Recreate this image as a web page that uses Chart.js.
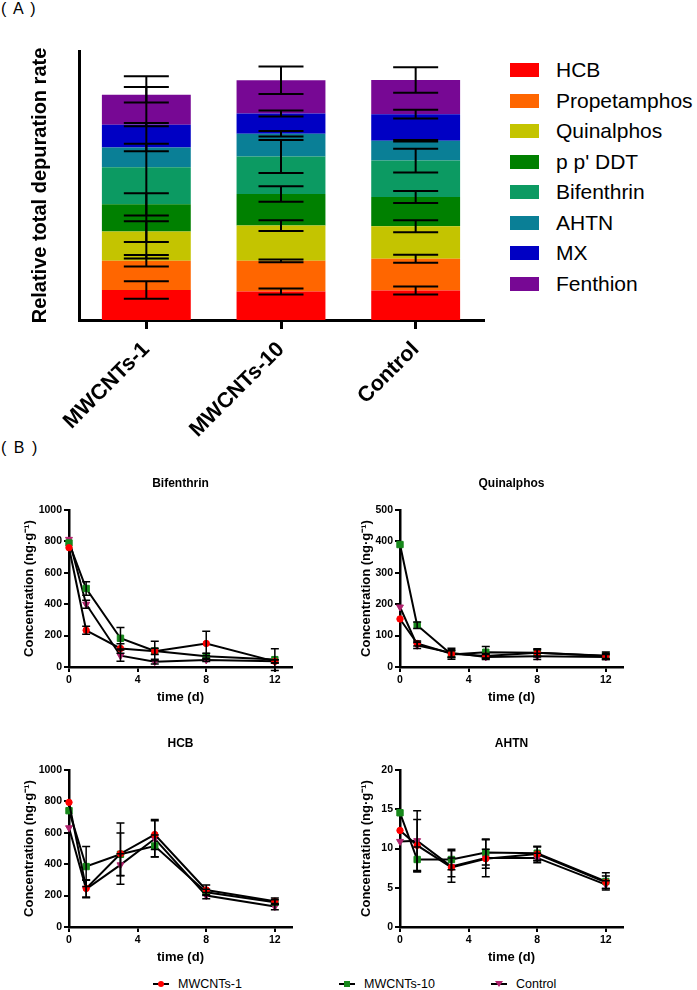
<!DOCTYPE html>
<html>
<head>
<meta charset="utf-8">
<script src="https://cdn.jsdelivr.net/npm/chart.js@4.4.1/dist/chart.umd.min.js"></script>
<style>
  body { margin: 0; background: #fff; width: 697px; height: 990px; position: relative; overflow: hidden;
         font-family: "Liberation Sans", Arial, sans-serif; color: #000; }
  canvas { position: absolute; }
  .tag { position: absolute; left: 1px; font-size: 16px; word-spacing: 3px; }
  .lgA { position: absolute; left: 510px; height: 30px; line-height: 30px; font-size: 21px; white-space: nowrap; }
  .lgA span.box { position: absolute; left: 0; top: 8px; width: 29px; height: 14px; }
  .lgA span.txt { position: absolute; left: 46px; top: 0; }
  .lgB { position: absolute; top: 976px; height: 16px; line-height: 16px; font-size: 12.5px; white-space: nowrap; }
  .lgB .ln { position: absolute; left: 0; top: 7px; width: 16px; height: 2px; background: #000; }
  .lgB .mk { position: absolute; }
  .lgB .txt { position: absolute; left: 25px; top: 0; }
</style>
</head>
<body>
<div class="tag" style="top:0px">( A )</div>
<div class="tag" style="top:439px">( B )</div>
<canvas id="chartA" width="490" height="400" style="left:0;top:40px"></canvas>
<canvas id="bif" width="356" height="240" style="left:0;top:470px"></canvas>
<canvas id="quin" width="330" height="240" style="left:340px;top:470px"></canvas>
<canvas id="hcb" width="356" height="240" style="left:0;top:730px"></canvas>
<canvas id="ahtn" width="330" height="240" style="left:340px;top:730px"></canvas>
<div id="legendA"></div>
<div id="legendB"></div>
<script>
// ---- panel A: relative total depuration rate (stacked) ----
const groups = ['MWCNTs-1', 'MWCNTs-10', 'Control'];
const compounds = ['HCB', 'Propetamphos', 'Quinalphos', "p p' DDT", 'Bifenthrin', 'AHTN', 'MX', 'Fenthion'];

const hcbRate  = [0.89, 0.85, 0.88], hcbRateErr  = [0.26, 0.09, 0.12];
const propRate = [0.87, 0.91, 0.94], propRateErr = [0.17, 0.04, 0.12];
const quinRate = [0.87, 1.05, 0.97], quinRateErr = [0.31, 0.16, 0.18];
const ddtRate  = [0.81, 0.94, 0.87], ddtRateErr  = [0.33, 0.23, 0.18];
const bifRate  = [1.10, 1.11, 1.08], bifRateErr  = [2.71, 0.49, 0.35];
const ahtnRate = [0.59, 0.68, 0.59], ahtnRateErr = [0.11, 0.08, 0.02];
const mxRate   = [0.68, 0.60, 0.79], mxRateErr   = [0.05, 0.09, 0.13];
const fenRate  = [0.89, 0.99, 1.02], fenRateErr  = [0.23, 0.41, 0.38];

// ---- panel B: concentration over time (ng/g) ----
const days = [0, 1, 3, 5, 8, 12];
const seriesNames = ['MWCNTs-1', 'MWCNTs-10', 'Control'];

const bifM1 = [760, 234, 118, 100, 150, 36],  bifM1Err = [0, 25, 30, 20, 78, 10];
const bifM10 = [790, 500, 183, 102, 68, 47],  bifM10Err = [0, 43, 68, 62, 20, 70];
const bifCtl = [813, 400, 72, 34, 45, 36],    bifCtlErr = [0, 25, 36, 15, 10, 10];

const quinM1 = [153, 75, 42, 35, 45, 35],     quinM1Err = [0, 8, 10, 8, 10, 8];
const quinM10 = [390, 133, 40, 47, 45, 36],   quinM10Err = [0, 10, 15, 18, 13, 12];
const quinCtl = [191, 69, 45, 32, 34, 32],    quinCtlErr = [0, 10, 15, 8, 10, 8];

const hcbM1 = [794, 246, 467, 589, 236, 164], hcbM1Err = [0, 55, 195, 95, 31, 20];
const hcbM10 = [741, 385, 463, 516, 221, 158], hcbM10Err = [0, 127, 135, 70, 20, 15];
const hcbCtl = [632, 242, 396, 562, 200, 130], hcbCtlErr = [0, 55, 70, 115, 20, 20];

const ahtnM1 = [12.3, 10.4, 7.6, 8.7, 9.3, 5.7],   ahtnM1Err = [0, 3.3, 1.2, 1.2, 0.9, 0.8];
const ahtnM10 = [14.55, 8.6, 8.6, 9.5, 9.4, 5.8],  ahtnM10Err = [0, 1.6, 1.3, 1.6, 0.9, 1.1];
const ahtnCtl = [10.9, 11.0, 7.7, 8.8, 8.8, 5.4],  ahtnCtlErr = [0, 3.8, 2.0, 2.4, 0.6, 0.5];

// styles
const compoundColors = ['#ff0000', '#ff6600', '#c4c400', '#008000', '#0c9a62', '#0a7f96', '#0000c4', '#770894'];
const seriesColors = ['#ff0000', '#17881b', '#b0246e'];
const seriesPoints = ['circle', 'rect', 'triangle'];
const seriesRot = [0, 0, 180];
const seriesRadius = [3.2, 4.5, 4];

Chart.defaults.font.family = '"Liberation Sans", Arial, sans-serif';
Chart.defaults.color = '#000';

const errorBars = {
  id: 'errorBars',
  afterDatasetsDraw(chart, args, opts) {
    const ctx = chart.ctx;
    const y = chart.scales.y;
    ctx.save();
    ctx.strokeStyle = '#000';
    ctx.lineWidth = opts.lineWidth;
    chart.data.datasets.forEach((ds, i) => {
      if (!ds.errors) return;
      chart.getDatasetMeta(i).data.forEach((el, j) => {
        const e = ds.errors[j];
        if (!e) return;
        const y1 = y.getPixelForValue(ds.tops[j] + e);
        const y2 = y.getPixelForValue(ds.tops[j] - e);
        const w = opts.cap;
        ctx.beginPath();
        ctx.moveTo(el.x, y1); ctx.lineTo(el.x, y2);
        ctx.moveTo(el.x - w, y1); ctx.lineTo(el.x + w, y1);
        ctx.moveTo(el.x - w, y2); ctx.lineTo(el.x + w, y2);
        ctx.stroke();
      });
    });
    ctx.restore();
  }
};

// panel A
const rateSeries = [hcbRate, propRate, quinRate, ddtRate, bifRate, ahtnRate, mxRate, fenRate];
const rateErrors = [hcbRateErr, propRateErr, quinRateErr, ddtRateErr, bifRateErr, ahtnRateErr, mxRateErr, fenRateErr];
const running = groups.map(() => 0);
const stackDatasets = rateSeries.map((vals, i) => {
  const tops = vals.map((v, j) => (running[j] += v));
  return {
    label: compounds[i], data: vals, tops: tops, errors: rateErrors[i],
    backgroundColor: compoundColors[i], borderWidth: 0,
    barPercentage: 0.66, categoryPercentage: 1
  };
});

new Chart(document.getElementById('chartA'), {
  type: 'bar',
  data: { labels: groups, datasets: stackDatasets },
  plugins: [errorBars],
  options: {
    responsive: false, animation: false,
    layout: { padding: { top: 11, right: 7, bottom: 0, left: 0 } },
    plugins: {
      legend: { display: false }, tooltip: { enabled: false },
      errorBars: { cap: 22.5, lineWidth: 2 }
    },
    scales: {
      x: {
        stacked: true,
        afterFit(s) { s.height = 120; },
        ticks: { minRotation: 45, maxRotation: 45, padding: 8, font: { size: 21.5, weight: 'bold' } },
        grid: { offset: false, drawOnChartArea: false, drawTicks: true, tickLength: 9, lineWidth: 3, color: '#000' },
        border: { display: true, width: 3, color: '#000' }
      },
      y: {
        stacked: true, min: 0, max: 8,
        afterFit(s) { s.width = 79; },
        ticks: { display: false },
        grid: { display: false },
        border: { display: true, width: 3, color: '#000' },
        title: { display: true, text: 'Relative total depuration rate', font: { size: 20, weight: 'bold' }, padding: { top: 28, bottom: 0 } }
      }
    }
  }
});

const legendA = document.getElementById('legendA');
compounds.forEach((name, k) => {
  const row = document.createElement('div');
  row.className = 'lgA';
  row.style.top = (55 + 30.5 * k) + 'px';
  row.innerHTML = `<span class="box" style="background:${compoundColors[k]}"></span><span class="txt">${name}</span>`;
  legendA.appendChild(row);
});

// panel B
function timeChart(id, title, yMax, yStep, vals, errs, yAxisW, yTitlePad, rightPad) {
  new Chart(document.getElementById(id), {
    type: 'line',
    data: {
      datasets: vals.map((v, i) => ({
        label: seriesNames[i],
        data: days.map((d, k) => ({ x: d, y: v[k] })),
        tops: v, errors: errs[i],
        borderColor: '#000', borderWidth: 2, tension: 0, clip: false,
        pointStyle: seriesPoints[i], rotation: seriesRot[i],
        pointRadius: seriesRadius[i],
        pointBackgroundColor: seriesColors[i], pointBorderColor: seriesColors[i], pointBorderWidth: 1
      }))
    },
    plugins: [errorBars],
    options: {
      responsive: false, animation: false,
      layout: { padding: { top: 0, right: rightPad, bottom: 0, left: 0 } },
      plugins: {
        legend: { display: false }, tooltip: { enabled: false },
        title: { display: true, text: title, fullSize: false, font: { size: 12, weight: 'bold' }, padding: { top: 6, bottom: 19.6 } },
        errorBars: { cap: 4, lineWidth: 1.5 }
      },
      scales: {
        x: {
          type: 'linear', min: 0, max: 13,
          afterFit(s) { s.height = 43; },
          ticks: { stepSize: 4, includeBounds: false, padding: 2, font: { size: 10.5, weight: 'bold' } },
          grid: { drawOnChartArea: false, drawTicks: true, tickLength: 5, lineWidth: 2, color: '#000' },
          border: { width: 2.5, color: '#000' },
          title: { display: true, text: 'time (d)', font: { size: 13, weight: 'bold' }, padding: { top: 0, bottom: 5 } }
        },
        y: {
          min: 0, max: yMax,
          afterFit(s) { s.width = yAxisW; },
          ticks: { stepSize: yStep, padding: 2, callback: v => String(v), font: { size: 10.5, weight: 'bold' } },
          grid: { drawOnChartArea: false, drawTicks: true, tickLength: 5, lineWidth: 2, color: '#000' },
          border: { width: 2.5, color: '#000' },
          title: { display: true, text: 'Concentration (ng·g⁻¹)', font: { size: 13, weight: 'bold' }, padding: { top: yTitlePad, bottom: 0 } }
        }
      }
    }
  });
}

timeChart('bif', 'Bifenthrin', 1000, 200, [bifM1, bifM10, bifCtl], [bifM1Err, bifM10Err, bifCtlErr], 69, 22, 64);
timeChart('quin', 'Quinalphos', 500, 100, [quinM1, quinM10, quinCtl], [quinM1Err, quinM10Err, quinCtlErr], 60, 19, 47);
timeChart('hcb', 'HCB', 1000, 200, [hcbM1, hcbM10, hcbCtl], [hcbM1Err, hcbM10Err, hcbCtlErr], 69, 22, 64);
timeChart('ahtn', 'AHTN', 20, 5, [ahtnM1, ahtnM10, ahtnCtl], [ahtnM1Err, ahtnM10Err, ahtnCtlErr], 60, 19, 47);

// shared legend for panel B
const legendB = document.getElementById('legendB');
const legendBx = [153, 339, 491];
seriesNames.forEach((name, i) => {
  const item = document.createElement('div');
  item.className = 'lgB';
  item.style.left = legendBx[i] + 'px';
  let mk;
  if (i === 0) mk = `<span class="mk" style="left:5px;top:5px;width:6px;height:6px;border-radius:50%;background:${seriesColors[0]}"></span>`;
  else if (i === 1) mk = `<span class="mk" style="left:5px;top:5px;width:6px;height:6px;background:${seriesColors[1]}"></span>`;
  else mk = `<span class="mk" style="left:4px;top:5px;width:0;height:0;border-left:4px solid transparent;border-right:4px solid transparent;border-top:6px solid ${seriesColors[2]}"></span>`;
  item.innerHTML = `<span class="ln"></span>${mk}<span class="txt">${name}</span>`;
  legendB.appendChild(item);
});
</script>
</body>
</html>
